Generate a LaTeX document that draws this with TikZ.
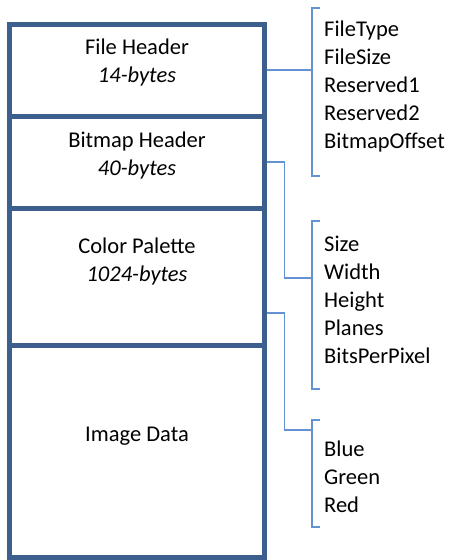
\documentclass[tikz,border=0pt]{standalone}
\usepackage{fontspec}
\setmainfont{Carlito}
\definecolor{boxblue}{HTML}{3C5F8E}
\definecolor{linkblue}{HTML}{6393D2}
\begin{document}
\begin{tikzpicture}[x=1pt,y=-1pt,
  part/.style={draw=boxblue,line width=5pt,minimum width=255pt,inner sep=0pt},
  txt/.style={inner sep=0pt,font=\fontsize{22.5}{28}\selectfont},
  list/.style={txt,align=left,anchor=north west},
  link/.style={draw=linkblue,line width=1.5pt}]

\useasboundingbox (0,0) rectangle (450,560);

% parts of the bitmap file
\node [part,minimum height=92pt] (fh) at (136.5,70) {};
\node [part,minimum height=92pt] (bh) at (136.5,162) {};
\node [part,minimum height=137pt] (cp) at (136.5,276.5) {};
\node [part,minimum height=212pt] (id) at (136.5,451) {};

\node [txt,align=center,anchor=north] (fhtext) at (137,39) {File Header\\\textit{14-bytes}};
\node [txt,align=center,anchor=north] (bhtext) at (137,132) {Bitmap Header\\\textit{40-bytes}};
\node [txt,align=center,anchor=north] (cptext) at (137,238) {Color Palette\\\textit{1024-bytes}};
\node [txt,anchor=north] (idtext) at (137,427) {Image Data};

% field lists
\node [list] (fhlist) at (324,21) {FileType\\FileSize\\Reserved1\\Reserved2\\BitmapOffset};
\node [list] (bhlist) at (324,236) {Size\\Width\\Height\\Planes\\BitsPerPixel};
\node [list] (cplist) at (324,441) {Blue\\Green\\Red};

\coordinate (k1) at (312,70);
\coordinate (k2) at (312,278);
\coordinate (k3) at (312,430);

% brackets
\path [link]
    (320,8) -- (312,8) -- (312,176) -- (320,176)
    (320,221) -- (312,221) -- (312,389) -- (320,389)
    (320,420) -- (312,420) -- (312,527) -- (320,527)
;

\path [link]
    (fh.east) -- (k1)
    (bh.east) -- ++(18,0) |- (k2)
    ([yshift=-36.5pt]cp.east) -- ++(18,0) |- (k3)
;

\end{tikzpicture}
\end{document}
